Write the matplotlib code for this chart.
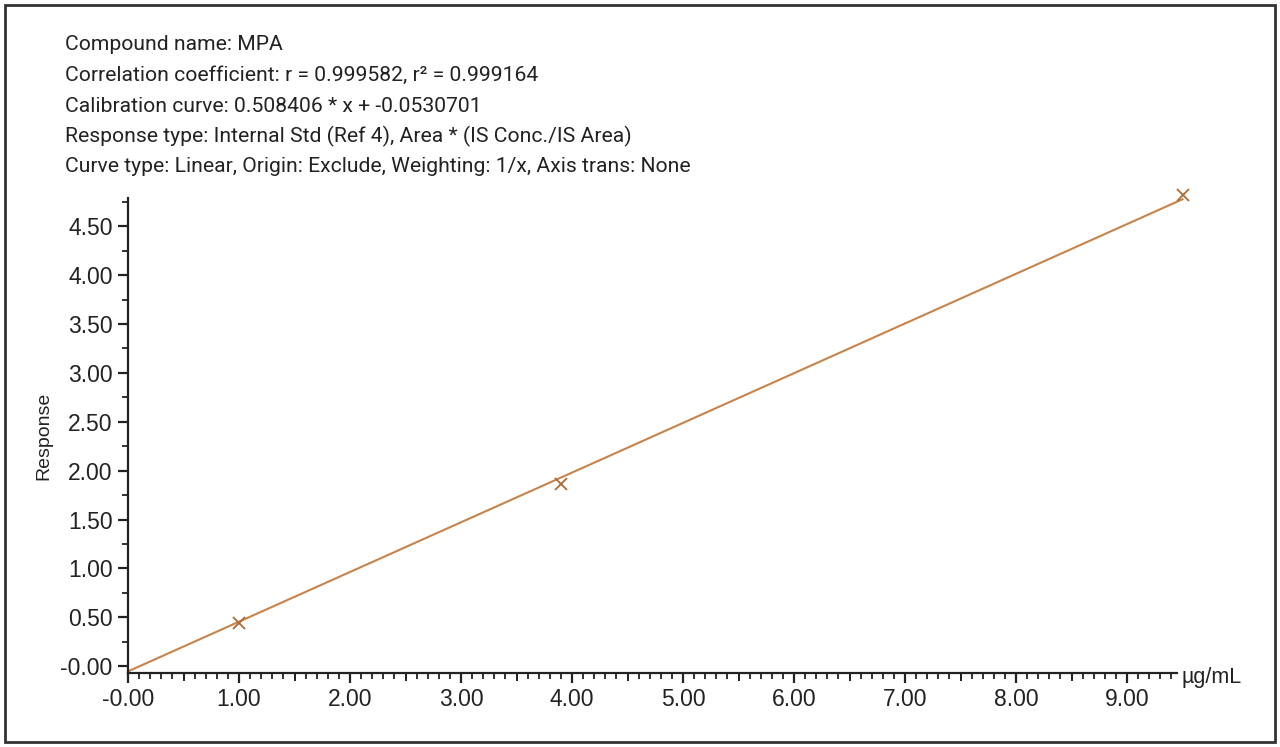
import numpy as np
import matplotlib.pyplot as plt
from matplotlib.ticker import MultipleLocator, FuncFormatter
from matplotlib.patches import Rectangle

# calibration standards
conc = [1.0, 3.9, 9.5]
response = [0.44, 1.86, 4.82]

# fitted curve from the header
slope = 0.508406
intercept = -0.0530701

header = [
    "Compound name: MPA",
    "Correlation coefficient: r = 0.999582, r² = 0.999164",
    "Calibration curve: 0.508406 * x + -0.0530701",
    "Response type: Internal Std (Ref 4), Area * (IS Conc./IS Area)",
    "Curve type: Linear, Origin: Exclude, Weighting: 1/x, Axis trans: None",
]

line_color = "#c8834a"
mark_color = "#b06a35"
text_color = "#222222"

fig = plt.figure(figsize=(12.8, 7.47), dpi=100)
ax = fig.add_axes([0.1, 0.099, 0.8195, 0.636])

# fitted line
xs = np.array([0.0, conc[-1]])
ax.plot(xs, slope * xs + intercept, color=line_color, lw=1.5, clip_on=False)
ax.plot(conc, response, ls="none", marker="x", ms=8, mew=1.3,
        color=mark_color, clip_on=False)

ax.set_xlim(0, 9.45)
ax.set_ylim(-0.07, 4.79)

for s in ["top", "right"]:
    ax.spines[s].set_visible(False)
for s in ["left", "bottom"]:
    ax.spines[s].set_linewidth(1.6)
    ax.spines[s].set_color(text_color)

fmt = FuncFormatter(lambda v, p: "-0.00" if abs(v) < 1e-9 else "%.2f" % v)
ax.xaxis.set_major_locator(MultipleLocator(1.0))
ax.xaxis.set_minor_locator(MultipleLocator(0.1))
ax.yaxis.set_major_locator(MultipleLocator(0.5))
ax.yaxis.set_minor_locator(MultipleLocator(0.25))
ax.xaxis.set_major_formatter(fmt)
ax.yaxis.set_major_formatter(fmt)

ax.tick_params(axis="both", which="major", length=7, width=1.6,
               colors=text_color, labelsize=16.5, pad=4)
ax.tick_params(axis="both", which="minor", length=4, width=1.3, colors=text_color)
for lab in ax.get_xticklabels() + ax.get_yticklabels():
    lab.set_fontfamily("Liberation Sans")

# half-unit ticks on x are a bit longer
sec = ax.secondary_xaxis("bottom")
sec.set_xticks(np.arange(0.5, 9.5, 1.0))
sec.tick_params(length=5.5, width=1.4, colors=text_color, labelbottom=False)
sec.spines["bottom"].set_visible(False)

ax.set_ylabel("Response", fontsize=14, family="Liberation Sans",
              color=text_color, labelpad=6)
ax.text(1.004, -0.01, "µg/mL", transform=ax.transAxes, fontsize=15.5,
        family="Liberation Sans", color=text_color, ha="left", va="center")

# header block
for i, t in enumerate(header):
    fig.text(65 / 1280, 1 - (45 + i * 30.5) / 747, t, fontsize=15.2,
             family=["Roboto", "DejaVu Sans"],
             color=text_color, ha="left", va="center")

# outer frame
fig.patches.append(Rectangle((5 / 1280, 5 / 747), 1270 / 1280, 737 / 747,
                             transform=fig.transFigure, fill=False,
                             ec="#333333", lw=2))

fig.savefig("out.png", dpi=100)
